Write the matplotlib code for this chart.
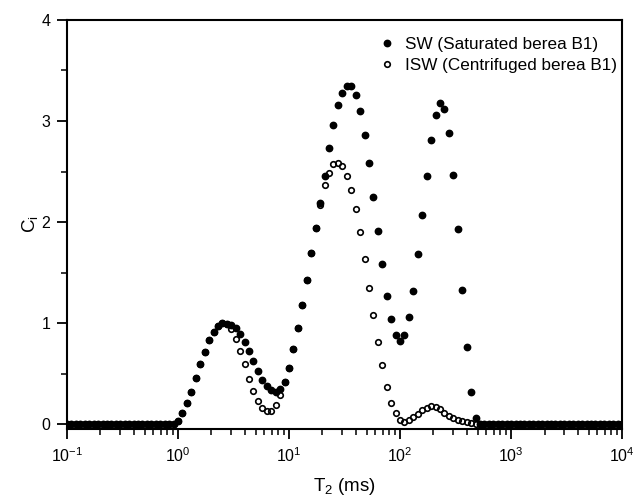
import numpy as np
import matplotlib
matplotlib.use("Agg")
import matplotlib.pyplot as plt
from matplotlib.ticker import MultipleLocator, LogLocator

plt.rcParams['font.family'] = ['Liberation Sans', 'DejaVu Sans']
plt.rcParams['mathtext.fontset'] = 'custom'
plt.rcParams['mathtext.rm'] = 'Liberation Sans'
plt.rcParams['mathtext.it'] = 'Liberation Sans'
plt.rcParams['mathtext.default'] = 'regular'

# T2 bins: 126 log-spaced relaxation times, 0.1 ms .. 10 s
t2_ms = np.logspace(-1, 4, 126)

# amplitudes per bin
sw_values = [
    0, 0, 0, 0, 0, 0, 0, 0, 0, 0,
    0, 0, 0, 0, 0, 0, 0, 0, 0, 0,
    0, 0, 0, 0, 0, 0.03, 0.11, 0.21, 0.32, 0.46,
    0.59, 0.71, 0.83, 0.91, 0.97, 1.00, 0.99, 0.98, 0.95, 0.89,
    0.81, 0.72, 0.62, 0.53, 0.44, 0.38, 0.34, 0.32, 0.35, 0.42,
    0.56, 0.74, 0.95, 1.18, 1.43, 1.69, 1.94, 2.19, 2.46, 2.73,
    2.96, 3.16, 3.28, 3.35, 3.35, 3.26, 3.10, 2.86, 2.58, 2.25,
    1.91, 1.58, 1.27, 1.04, 0.88, 0.82, 0.88, 1.06, 1.32, 1.68,
    2.07, 2.46, 2.81, 3.06, 3.18, 3.12, 2.88, 2.47, 1.93, 1.33,
    0.76, 0.32, 0.06, 0, 0, 0, 0, 0, 0, 0,
    0, 0, 0, 0, 0, 0, 0, 0, 0, 0,
    0, 0, 0, 0, 0, 0, 0, 0, 0, 0,
    0, 0, 0, 0, 0, 0,
]

isw_values = [
    0, 0, 0, 0, 0, 0, 0, 0, 0, 0,
    0, 0, 0, 0, 0, 0, 0, 0, 0, 0,
    0, 0, 0, 0, 0, 0.03, 0.11, 0.21, 0.32, 0.46,
    0.59, 0.71, 0.83, 0.91, 0.97, 1.00, 0.99, 0.94, 0.84, 0.72,
    0.59, 0.45, 0.33, 0.23, 0.16, 0.13, 0.13, 0.19, 0.29, 0.42,
    0.56, 0.74, 0.95, 1.18, 1.43, 1.69, 1.94, 2.17, 2.37, 2.49,
    2.57, 2.58, 2.55, 2.46, 2.32, 2.13, 1.90, 1.63, 1.35, 1.08,
    0.81, 0.58, 0.37, 0.21, 0.11, 0.04, 0.02, 0.04, 0.07, 0.10,
    0.14, 0.16, 0.18, 0.17, 0.15, 0.11, 0.08, 0.06, 0.04, 0.03,
    0.02, 0.01, 0, 0, 0, 0, 0, 0, 0, 0,
    0, 0, 0, 0, 0, 0, 0, 0, 0, 0,
    0, 0, 0, 0, 0, 0, 0, 0, 0, 0,
    0, 0, 0, 0, 0, 0,
]

sw_label = 'SW (Saturated berea B1)'
isw_label = 'ISW (Centrifuged berea B1)'

fig = plt.figure(figsize=(6.44, 4.99), dpi=100)
ax = fig.add_axes([0.104, 0.140, 0.862, 0.820])

ax.plot(t2_ms, sw_values, 'o', ms=4.6, color='black', mec='black', label=sw_label)
ax.plot(t2_ms, isw_values, 'o', ms=4.0, mfc='none', mec='black', mew=1.2, label=isw_label)

ax.set_xscale('log')
ax.set_xlim(0.1, 1e4)
ax.set_ylim(-0.05, 4)
ax.yaxis.set_major_locator(MultipleLocator(1))
ax.yaxis.set_minor_locator(MultipleLocator(0.5))
ax.xaxis.set_major_locator(LogLocator(base=10, numticks=10))
ax.xaxis.set_minor_locator(LogLocator(base=10, subs=np.arange(2, 10), numticks=10))

for s in ax.spines.values():
    s.set_linewidth(1.5)
ax.tick_params(which='major', direction='out', length=7, width=1.3, labelsize=11.5, pad=5)
ax.tick_params(which='minor', direction='out', length=4, width=1.1)

ax.set_xlabel('T$_2$ (ms)', fontsize=13.5, labelpad=8)
ax.set_ylabel('C$_i$', fontsize=13.5, rotation=90, labelpad=1)

ax.legend(loc='upper right', frameon=False, fontsize=12.3, handletextpad=0.45,
          borderaxespad=0.6, labelspacing=0.35, handlelength=1.2,
          bbox_to_anchor=(1.022, 1.0))

fig.savefig('out.png', dpi=100)
